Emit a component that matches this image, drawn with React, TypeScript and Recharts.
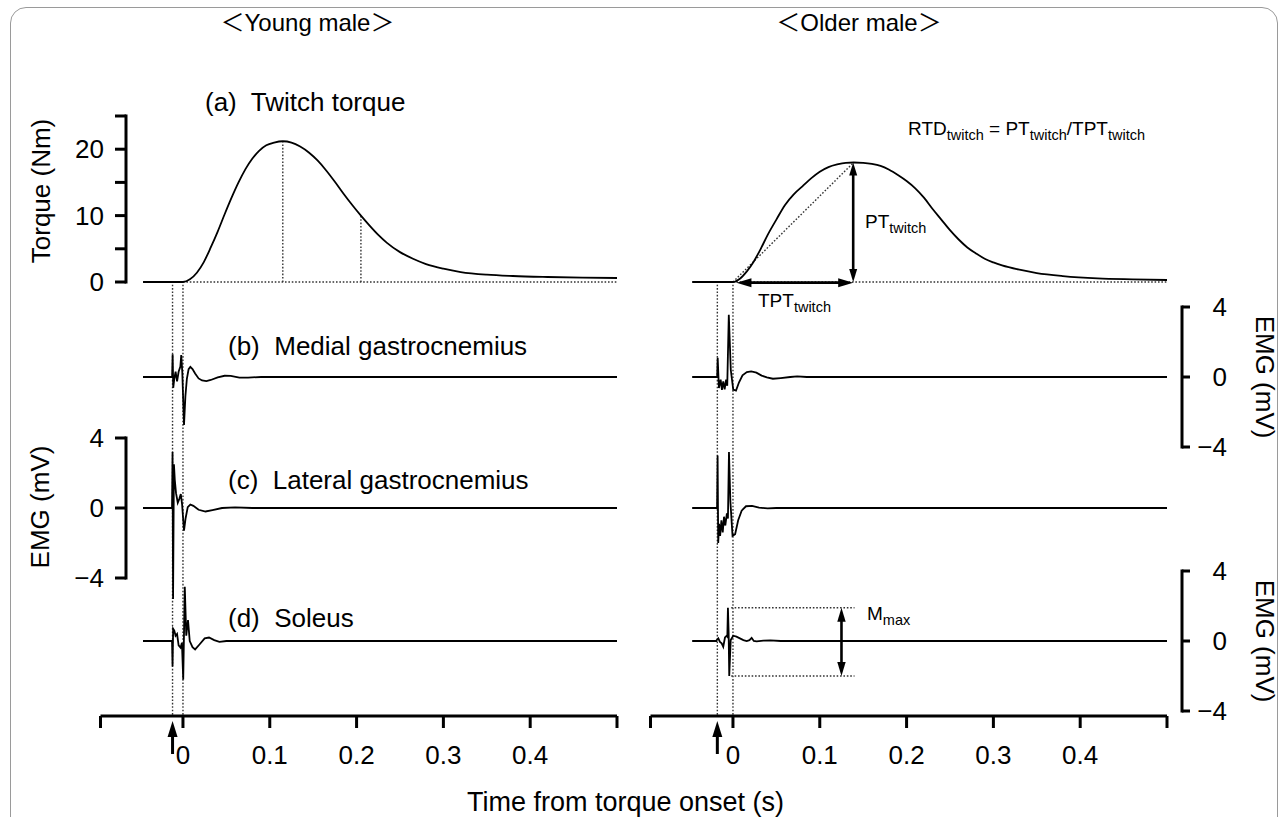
import React from 'react';
import { ComposedChart, LineChart, Line, XAxis, YAxis, ReferenceLine } from 'recharts';

const FONT = '"Liberation Sans", Arial, Helvetica, sans-serif';

// ---------------- data ----------------
const timeDomain: [number, number] = [-0.095, 0.5];
const timeTicks = [0, 0.1, 0.2, 0.3, 0.4];
const torqueTicks = [0, 5, 10, 15, 20, 25];
const torqueLabelTicks = [0, 10, 20];
const emgTicks = [-4, 0, 4];

const youngStim = -0.012;
const olderStim = -0.018;

const youngPeakT = 0.115;
const youngPeak = 21.2;
const youngHalfT = 0.205;
const youngHalf = 10.0;

const olderPeakT = 0.139;
const olderPeak = 18.0;
const olderTptStart = 0.004;
const mmaxTop = 1.9;
const mmaxBottom = -2.0;
const mmaxStart = -0.002;
const mmaxEnd = 0.14;
const mmaxArrowT = 0.125;

const youngTorque: [number, number][] = [
  [-0.046, 0], [-0.03, 0], [-0.015, 0], [0, 0], [0.008, 0.4], [0.016, 1.4], [0.024, 3.0],
  [0.032, 5.2], [0.04, 7.6], [0.048, 10.2], [0.056, 12.7], [0.064, 15.0], [0.072, 17.0],
  [0.08, 18.6], [0.088, 19.8], [0.096, 20.6], [0.105, 21.0], [0.115, 21.2], [0.125, 21.0],
  [0.135, 20.4], [0.145, 19.5], [0.155, 18.3], [0.165, 16.8], [0.175, 15.1], [0.185, 13.3],
  [0.195, 11.6], [0.205, 10.0], [0.215, 8.5], [0.225, 7.1], [0.235, 5.9], [0.25, 4.5],
  [0.265, 3.5], [0.28, 2.7], [0.3, 2.0], [0.32, 1.5], [0.35, 1.1], [0.38, 0.9], [0.42, 0.75],
  [0.46, 0.65], [0.5, 0.6],
];

const olderTorque: [number, number][] = [
  [-0.047, 0], [-0.03, 0], [-0.015, 0], [0, 0], [0.008, 0.5], [0.016, 1.6], [0.024, 3.1],
  [0.032, 5.0], [0.04, 7.1], [0.05, 9.4], [0.06, 11.6], [0.07, 13.2], [0.08, 14.4],
  [0.09, 15.6], [0.1, 16.6], [0.11, 17.3], [0.12, 17.7], [0.13, 17.95], [0.139, 18.0],
  [0.15, 17.95], [0.16, 17.8], [0.17, 17.5], [0.18, 16.9], [0.19, 16.1], [0.2, 15.2],
  [0.21, 14.1], [0.22, 12.7], [0.23, 11.0], [0.24, 9.4], [0.25, 7.8], [0.26, 6.4],
  [0.27, 5.2], [0.28, 4.3], [0.29, 3.5], [0.3, 2.95], [0.31, 2.5], [0.33, 1.85],
  [0.35, 1.35], [0.38, 0.9], [0.42, 0.55], [0.46, 0.4], [0.5, 0.3],
];

const youngMG: [number, number][] = [
  [-0.046, 0], [-0.0125, 0], [-0.0119, 1.3], [-0.0112, -0.62], [-0.01, -0.1], [-0.0085, 0.3],
  [-0.0068, -0.25], [-0.005, 0.3], [-0.003, 0.6], [-0.002, 1.25], [-0.0008, 0.3],
  [0.0012, -2.74], [0.0028, -1.1], [0.0045, -0.1], [0.0065, 0.45], [0.0085, 0.58],
  [0.011, 0.45], [0.014, 0.2], [0.018, -0.08], [0.022, -0.2], [0.027, -0.24], [0.032, -0.17],
  [0.04, -0.02], [0.048, 0.07], [0.055, 0.06], [0.065, -0.03], [0.075, -0.03], [0.09, 0],
  [0.5, 0],
];

const youngLG: [number, number][] = [
  [-0.046, 0], [-0.0126, 0], [-0.012, 3.2], [-0.0114, -5.2], [-0.0104, 2.5], [-0.0094, 1.6],
  [-0.008, 0.85], [-0.006, 0.3], [-0.004, 0.55], [-0.0025, 0.8], [-0.001, 0.2],
  [0.0012, -1.3], [0.003, -0.6], [0.0055, 0.05], [0.0085, 0.2], [0.012, 0.12],
  [0.018, -0.1], [0.026, -0.2], [0.034, -0.12], [0.045, 0], [0.06, 0.03], [0.08, 0],
  [0.5, 0],
];

const youngSOL: [number, number][] = [
  [-0.046, 0], [-0.0126, 0], [-0.012, -1.45], [-0.0113, 0.7], [-0.01, 0.6], [-0.0085, 0.3],
  [-0.0068, 0.4], [-0.005, -0.25], [-0.0028, -0.38], [-0.0012, -0.1], [0.0003, -2.2],
  [0.0021, 3.1], [0.0038, 0.3], [0.0058, 1.2], [0.0078, 0], [0.011, -0.35], [0.014, -0.48],
  [0.019, -0.2], [0.025, 0.15], [0.03, 0.2], [0.036, 0.05], [0.042, -0.05], [0.05, 0],
  [0.5, 0],
];

const olderMG: [number, number][] = [
  [-0.047, 0], [-0.0182, 0], [-0.0176, 1.1], [-0.0162, -0.63], [-0.0142, -0.15],
  [-0.0127, -0.73], [-0.0112, -0.25], [-0.0096, -0.7], [-0.0079, -0.15], [-0.0066, -0.5],
  [-0.0048, 3.56], [-0.0025, 0.4], [0.0003, -0.72], [0.0035, -0.78], [0.007, -0.3],
  [0.011, 0.1], [0.016, 0.28], [0.021, 0.32], [0.027, 0.25], [0.033, 0.08], [0.039, -0.02],
  [0.046, -0.1], [0.055, -0.06], [0.066, 0], [0.074, 0.03], [0.085, 0], [0.5, 0],
];

const olderLG: [number, number][] = [
  [-0.047, 0], [-0.0183, 0], [-0.0177, 3.0], [-0.017, -2.0], [-0.016, -0.9], [-0.0148, -1.6],
  [-0.0133, -0.7], [-0.0118, -1.4], [-0.0103, -0.5], [-0.0088, -1.0], [-0.007, -0.3],
  [-0.0058, -0.6], [-0.0046, 3.2], [-0.003, 0.4], [-0.0005, -1.6], [0.0025, -1.5],
  [0.006, -0.7], [0.01, -0.15], [0.015, 0.1], [0.022, 0.12], [0.03, 0.02], [0.04, -0.02],
  [0.05, 0], [0.5, 0],
];

const olderSOL: [number, number][] = [
  [-0.047, 0], [-0.019, 0], [-0.0188, 0.05], [-0.0169, 0.15], [-0.015, -0.05],
  [-0.013, -0.13], [-0.0112, -0.33], [-0.0092, 0.2], [-0.0073, 0.3], [-0.0065, 0.25],
  [-0.0058, 1.9], [-0.005, 0.5], [-0.0043, -2.0], [-0.0026, 0.05], [0.0003, 0.3],
  [0.004, 0.25], [0.008, 0.15], [0.012, 0.05], [0.0158, 0], [0.019, 0.05], [0.0215, 0.18],
  [0.024, 0], [0.0273, -0.02], [0.035, 0.02], [0.043, 0.03], [0.055, 0], [0.5, 0],
];

const toPts = (a: [number, number][]) => a.map(([t, v]) => ({ t, v }));

// ---------------- layout ----------------
const PLOT_TOP = 100;
const PLOT_BOTTOM = 716;
const COL_W = 640;
const COL_H = 817;
const COL_MARGIN = { top: PLOT_TOP, right: 23, bottom: 41, left: 100.5 };
const XAXIS_H = 60;

type Row = { y0: number; k: number };
const ROWS: Record<string, Row> = {
  tq: { y0: 282, k: 166 / 25 },
  b: { y0: 377, k: 17.5 },
  c: { y0: 508, k: 17.5 },
  d: { y0: 641, k: 17.5 },
};
const dom = (r: Row): [number, number] => [(r.y0 - PLOT_BOTTOM) / r.k, (r.y0 - PLOT_TOP) / r.k];
const TQ_LO = dom(ROWS.tq)[0];

const DOT = { stroke: '#333', strokeWidth: 1.4, strokeDasharray: '1.6 1.8' };

function makeArrow(headLen: number, half: number, width: number, both: boolean) {
  return (p: any) => {
    const x1 = Number(p.x1), y1 = Number(p.y1), x2 = Number(p.x2), y2 = Number(p.y2);
    const dx = x2 - x1, dy = y2 - y1;
    const L = Math.hypot(dx, dy) || 1;
    const ux = dx / L, uy = dy / L;
    const nx = -uy, ny = ux;
    const head = (tx: number, ty: number, dx2: number, dy2: number) => {
      const bx = tx - dx2 * headLen, by = ty - dy2 * headLen;
      return `${tx},${ty} ${bx + nx * half},${by + ny * half} ${bx - nx * half},${by - ny * half}`;
    };
    const sx = both ? x1 + ux * headLen * 0.8 : x1;
    const sy = both ? y1 + uy * headLen * 0.8 : y1;
    const ex = x2 - ux * headLen * 0.8, ey = y2 - uy * headLen * 0.8;
    return (
      <g>
        <line x1={sx} y1={sy} x2={ex} y2={ey} stroke="#000" strokeWidth={width} />
        <polygon points={head(x2, y2, ux, uy)} fill="#000" />
        {both && <polygon points={head(x1, y1, -ux, -uy)} fill="#000" />}
      </g>
    );
  };
}

const TimeTick = (props: any) => {
  const { x, y, payload, stim } = props;
  const v = payload.value;
  if (Math.abs(v - stim) < 1e-9) {
    return (
      <g>
        <line x1={x} y1={y + 18} x2={x} y2={y + 38} stroke="#000" strokeWidth={3} />
        <polygon points={`${x},${y + 5} ${x - 5},${y + 21} ${x + 5},${y + 21}`} fill="#000" />
      </g>
    );
  }
  const label = timeTicks.includes(v) ? String(v) : '';
  return (
    <g>
      <line x1={x} y1={y} x2={x} y2={y + 12} stroke="#000" strokeWidth={3} />
      {label && (
        <text x={x} y={y + 48} textAnchor="middle" fontSize={26} fontFamily={FONT} fill="#000">
          {label}
        </text>
      )}
    </g>
  );
};

function Column(props: {
  left: number;
  stim: number;
  torque: [number, number][];
  b: [number, number][];
  c: [number, number][];
  d: [number, number][];
  children?: React.ReactNode;
}) {
  const { left, stim } = props;
  const lineProps = { dataKey: 'v', stroke: '#000', strokeWidth: 1.8, dot: false, isAnimationActive: false };
  return (
    <div style={{ position: 'absolute', left, top: 0 }}>
      <ComposedChart width={COL_W} height={COL_H} margin={COL_MARGIN}>
        <XAxis
          dataKey="t"
          type="number"
          domain={timeDomain}
          allowDataOverflow
          ticks={[timeDomain[0], stim, ...timeTicks, timeDomain[1]]}
          interval={0}
          tickLine={false}
          tickSize={0}
          tickMargin={0}
          axisLine={{ stroke: '#000', strokeWidth: 3 }}
          tick={<TimeTick stim={stim} />}
          height={XAXIS_H}
        />
        <YAxis yAxisId="tq" hide type="number" domain={dom(ROWS.tq)} allowDataOverflow />
        <YAxis yAxisId="b" hide type="number" domain={dom(ROWS.b)} allowDataOverflow />
        <YAxis yAxisId="c" hide type="number" domain={dom(ROWS.c)} allowDataOverflow />
        <YAxis yAxisId="d" hide type="number" domain={dom(ROWS.d)} allowDataOverflow />

        <ReferenceLine yAxisId="tq" ifOverflow="visible" segment={[{ x: stim, y: -0.4 }, { x: stim, y: TQ_LO }]} {...DOT} />
        <ReferenceLine yAxisId="tq" ifOverflow="visible" segment={[{ x: 0, y: -0.4 }, { x: 0, y: TQ_LO }]} {...DOT} />
        <ReferenceLine yAxisId="tq" ifOverflow="visible" segment={[{ x: 0, y: 0 }, { x: timeDomain[1], y: 0 }]} {...DOT} />
        {props.children}

        <Line yAxisId="tq" data={toPts(props.torque)} type="monotone" {...lineProps} />
        <Line yAxisId="b" data={toPts(props.b)} type="linear" {...lineProps} />
        <Line yAxisId="c" data={toPts(props.c)} type="linear" {...lineProps} />
        <Line yAxisId="d" data={toPts(props.d)} type="linear" {...lineProps} />
      </ComposedChart>
    </div>
  );
}

function AxisOnly(props: {
  left: number;
  width: number;
  row: Row;
  lo: number;
  hi: number;
  orientation: 'left' | 'right';
  ticks: number[];
  labelTicks: number[];
  tickSize: number;
  tickMargin: number;
  axisWidth: number;
}) {
  const { row, lo, hi, orientation } = props;
  const top = row.y0 - hi * row.k;
  const bottom = row.y0 - lo * row.k;
  const margin =
    orientation === 'left'
      ? { top, bottom: COL_H - bottom, left: 0, right: props.width - props.axisWidth - 20 }
      : { top, bottom: COL_H - bottom, left: props.width - props.axisWidth - 20, right: 0 };
  const fmt = (v: number) => (props.labelTicks.includes(v) ? (v < 0 ? '\u2212' + Math.abs(v) : String(v)) : '');
  return (
    <div style={{ position: 'absolute', left: props.left, top: 0 }}>
      <LineChart width={props.width} height={COL_H} margin={margin} data={[{ t: 0, v: lo }, { t: 1, v: hi }]}>
        <XAxis dataKey="t" type="number" hide domain={[0, 1]} />
        <YAxis
          orientation={orientation}
          type="number"
          domain={[lo, hi]}
          allowDataOverflow
          ticks={props.ticks}
          interval={0}
          width={props.axisWidth}
          tickSize={props.tickSize}
          tickMargin={props.tickMargin}
          tickFormatter={fmt}
          axisLine={{ stroke: '#000', strokeWidth: 3, strokeLinecap: 'square' }}
          tickLine={{ stroke: '#000', strokeWidth: 3 }}
          tick={{ fill: '#000', fontSize: 26, fontFamily: FONT, textAnchor: 'end' }}
        />
        <Line dataKey="v" stroke="none" dot={false} isAnimationActive={false} />
      </LineChart>
    </div>
  );
}

const Sub = ({ children }: { children: string }) => (
  <tspan fontSize={14.5} dy={5}>{children}</tspan>
);

export default function App() {
  const youngArrowPT = makeArrow(13, 4, 2.6, true);
  return (
    <div style={{ position: 'absolute', left: 0, top: 0, width: 1287, height: 817, background: '#fff', overflow: 'hidden' }}>
      <div
        style={{
          position: 'absolute',
          left: 10,
          top: 7,
          width: 1268,
          height: 840,
          border: '1px solid #9a9a9a',
          borderRadius: 16,
          boxSizing: 'border-box',
        }}
      />

      <Column left={0} stim={youngStim} torque={youngTorque} b={youngMG} c={youngLG} d={youngSOL}>
        <ReferenceLine yAxisId="tq" ifOverflow="visible" segment={[{ x: youngPeakT, y: 0 }, { x: youngPeakT, y: youngPeak }]} {...DOT} />
        <ReferenceLine yAxisId="tq" ifOverflow="visible" segment={[{ x: youngHalfT, y: 0 }, { x: youngHalfT, y: youngHalf }]} {...DOT} />
      </Column>

      <Column left={550} stim={olderStim} torque={olderTorque} b={olderMG} c={olderLG} d={olderSOL}>
        <ReferenceLine yAxisId="tq" ifOverflow="visible" segment={[{ x: 0, y: 0 }, { x: olderPeakT, y: olderPeak }]} {...DOT} />
        <ReferenceLine yAxisId="tq" ifOverflow="visible" segment={[{ x: olderPeakT - 0.0005, y: 0 }, { x: olderPeakT - 0.0005, y: olderPeak }]} shape={youngArrowPT} />
        <ReferenceLine yAxisId="tq" ifOverflow="visible" segment={[{ x: olderTptStart, y: -0.1 }, { x: olderPeakT - 0.0005, y: -0.1 }]} shape={makeArrow(15, 4.5, 2.8, true)} />
        <ReferenceLine yAxisId="d" ifOverflow="visible" segment={[{ x: mmaxStart, y: mmaxTop }, { x: mmaxEnd, y: mmaxTop }]} {...DOT} />
        <ReferenceLine yAxisId="d" ifOverflow="visible" segment={[{ x: mmaxStart, y: mmaxBottom }, { x: mmaxEnd, y: mmaxBottom }]} {...DOT} />
        <ReferenceLine yAxisId="d" ifOverflow="visible" segment={[{ x: mmaxArrowT, y: mmaxBottom }, { x: mmaxArrowT, y: mmaxTop }]} shape={makeArrow(14, 4.2, 2.6, true)} />
      </Column>

      {/* y axes */}
      <AxisOnly left={0} width={200} row={ROWS.tq} lo={0} hi={25} orientation="left" ticks={torqueTicks} labelTicks={torqueLabelTicks} tickSize={11} tickMargin={11} axisWidth={126} />
      <AxisOnly left={0} width={200} row={ROWS.c} lo={-4} hi={4} orientation="left" ticks={emgTicks} labelTicks={emgTicks} tickSize={11} tickMargin={11} axisWidth={126} />
      <AxisOnly left={1000} width={287} row={ROWS.b} lo={-4} hi={4} orientation="right" ticks={emgTicks} labelTicks={emgTicks} tickSize={8} tickMargin={37} axisWidth={105} />
      <AxisOnly left={1000} width={287} row={ROWS.d} lo={-4} hi={4} orientation="right" ticks={emgTicks} labelTicks={emgTicks} tickSize={8} tickMargin={37} axisWidth={105} />

      <svg width={1287} height={817} style={{ position: 'absolute', left: 0, top: 0, pointerEvents: 'none' }} fontFamily={FONT} fill="#000">
        <text x={307.5} y={31} textAnchor="middle" fontSize={24} fontFamily={'"Liberation Sans", "Noto Sans CJK JP", sans-serif'}>＜Young male＞</text>
        <text x={859} y={31} textAnchor="middle" fontSize={24} fontFamily={'"Liberation Sans", "Noto Sans CJK JP", sans-serif'}>＜Older male＞</text>

        <text x={205} y={111} fontSize={26} style={{ whiteSpace: 'pre' }}>{'(a)  Twitch torque'}</text>
        <text x={228} y={355} fontSize={26} style={{ whiteSpace: 'pre' }}>{'(b)  Medial gastrocnemius'}</text>
        <text x={228} y={489} fontSize={26} style={{ whiteSpace: 'pre' }}>{'(c)  Lateral gastrocnemius'}</text>
        <text x={228} y={627} fontSize={26} style={{ whiteSpace: 'pre' }}>{'(d)  Soleus'}</text>

        <text transform="translate(41,191) rotate(-90)" textAnchor="middle" dominantBaseline="central" fontSize={26}>Torque (Nm)</text>
        <text transform="translate(40,507) rotate(-90)" textAnchor="middle" dominantBaseline="central" fontSize={26}>EMG (mV)</text>
        <text transform="translate(1265,377) rotate(90)" textAnchor="middle" dominantBaseline="central" fontSize={26}>EMG (mV)</text>
        <text transform="translate(1265,641) rotate(90)" textAnchor="middle" dominantBaseline="central" fontSize={26}>EMG (mV)</text>

        <text x={625.5} y={811} textAnchor="middle" fontSize={27}>Time from torque onset (s)</text>

        <text x={908} y={135} fontSize={19}>
          RTD<Sub>twitch</Sub>
          <tspan dy={-5}>{' = PT'}</tspan>
          <Sub>twitch</Sub>
          <tspan dy={-5}>/TPT</tspan>
          <Sub>twitch</Sub>
        </text>
        <text x={865} y={228} fontSize={19}>
          PT<Sub>twitch</Sub>
        </text>
        <text x={758} y={307} fontSize={19}>
          TPT<Sub>twitch</Sub>
        </text>
        <text x={867} y={620} fontSize={19}>
          M<Sub>max</Sub>
        </text>
      </svg>
    </div>
  );
}
